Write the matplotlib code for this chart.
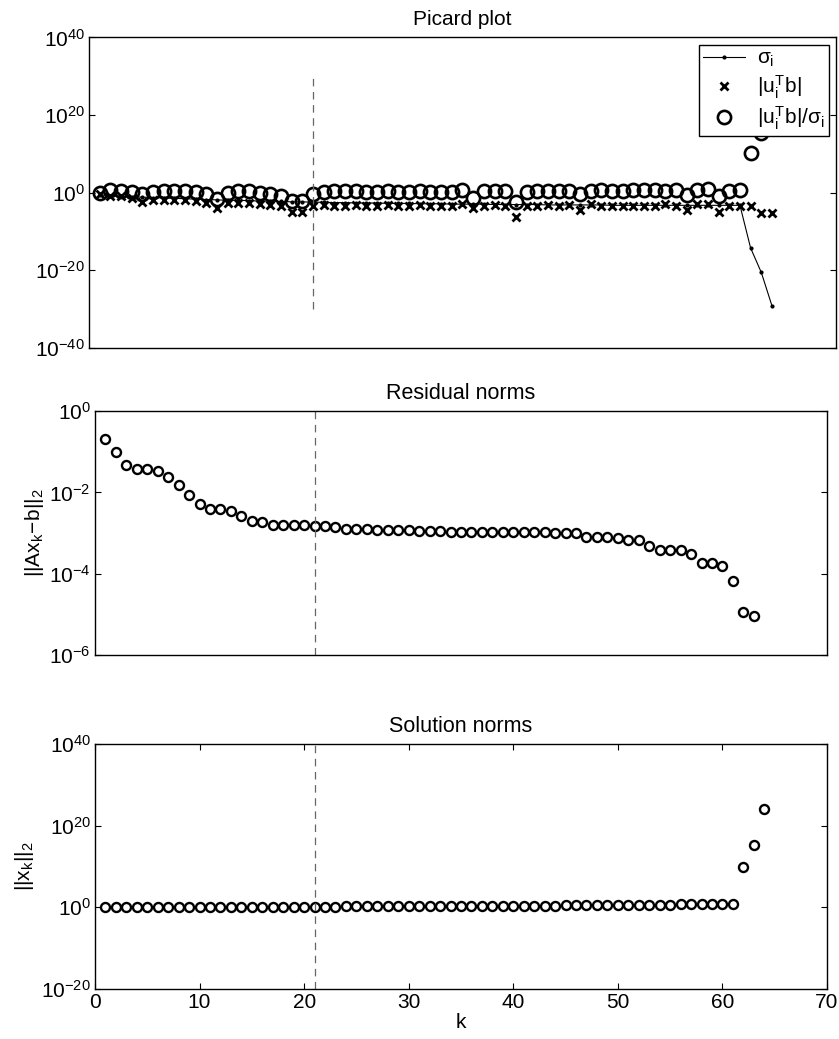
import numpy as np
import matplotlib
matplotlib.use("Agg")
import matplotlib.pyplot as plt
from matplotlib.ticker import NullLocator

plt.rcParams['font.family'] = ['Liberation Sans', 'DejaVu Sans']
plt.rcParams['mathtext.fontset'] = 'custom'
plt.rcParams['mathtext.rm'] = 'Liberation Sans'
plt.rcParams['mathtext.it'] = 'Liberation Sans'
plt.rcParams['mathtext.sf'] = 'Liberation Sans'
plt.rcParams['mathtext.bf'] = 'Liberation Sans:bold'
plt.rcParams['font.size'] = 15

# exponents (log10) of the plotted quantities, k = 1..n
sigma_exp = [-0.6, -0.8, -0.9, -1.1, -1.2, -1.3, -1.4, -1.5, -1.6, -1.7,
             -1.8, -1.9, -2.0, -2.0, -2.1, -2.2, -2.2, -2.3, -2.4, -2.4,
             -2.5, -2.5, -2.6, -2.6, -2.7, -2.7, -2.7, -2.8, -2.8, -2.8,
             -2.9, -2.9, -2.9, -3.0, -3.0, -3.0, -3.0, -3.1, -3.1, -3.1,
             -3.1, -3.1, -3.2, -3.2, -3.2, -3.2, -3.2, -3.2, -3.3, -3.3,
             -3.3, -3.3, -3.3, -3.3, -3.3, -3.3, -3.3, -3.3, -3.3, -3.3,
             -3.3, -14.3, -20.6, -29.2]
utb_exp = [-0.5, -0.8, -1.0, -1.5, -2.5, -1.8, -1.8, -2.0, -2.0, -2.3,
           -2.8, -4.0, -2.8, -2.6, -2.6, -3.0, -3.2, -3.6, -5.0, -5.0,
           -3.5, -3.2, -3.4, -3.4, -3.2, -3.5, -3.5, -3.3, -3.5, -3.5,
           -3.3, -3.5, -3.5, -3.4, -3.0, -4.0, -3.4, -3.3, -3.4, -6.2,
           -3.6, -3.4, -3.3, -3.4, -3.3, -4.5, -2.9, -3.4, -3.4, -3.6,
           -3.4, -3.4, -3.6, -2.9, -3.4, -4.5, -2.9, -3.0, -4.9, -3.6,
           -3.5, -3.6, -5.2, -5.2]
coef_exp = [0.0, 0.7, 0.5, 0.1, -0.4, 0.1, 0.3, 0.3, 0.3, 0.1,
            -0.3, -1.6, -0.2, 0.3, 0.3, -0.2, -0.3, -0.9, -2.3, -2.2,
            -0.3, 0.1, 0.3, 0.3, 0.3, 0.1, 0.1, 0.3, 0.1, 0.1,
            0.3, 0.1, 0.1, 0.1, 0.6, -1.4, 0.3, 0.5, 0.3, -2.5,
            0.1, 0.3, 0.5, 0.3, 0.5, -0.4, 0.5, 0.7, 0.5, 0.5,
            0.7, 0.7, 0.7, 0.5, 0.7, -0.6, 0.7, 0.8, -0.8, 0.5,
            0.6, 10.2, 15.4, 24.0]
resid_exp = [-0.68, -1.01, -1.33, -1.42, -1.42, -1.48, -1.63, -1.81, -2.06, -2.29,
             -2.42, -2.42, -2.46, -2.58, -2.70, -2.74, -2.80, -2.80, -2.80, -2.80,
             -2.82, -2.82, -2.86, -2.90, -2.90, -2.91, -2.92, -2.92, -2.92, -2.93,
             -2.94, -2.94, -2.95, -2.97, -2.97, -2.97, -2.98, -2.98, -2.98, -2.98,
             -2.98, -2.98, -2.98, -3.00, -3.00, -3.00, -3.10, -3.10, -3.10, -3.13,
             -3.17, -3.17, -3.32, -3.42, -3.42, -3.41, -3.53, -3.75, -3.75, -3.81,
             -4.19, -4.96, -5.05]
soln_exp = [-0.05, 0.00, 0.02, 0.03, 0.04, 0.05, 0.06, 0.07, 0.08, 0.09,
            0.10, 0.10, 0.11, 0.12, 0.12, 0.13, 0.14, 0.15, 0.15, 0.16,
            0.17, 0.18, 0.18, 0.19, 0.20, 0.20, 0.21, 0.22, 0.23, 0.23,
            0.24, 0.25, 0.26, 0.27, 0.28, 0.29, 0.30, 0.31, 0.32, 0.34,
            0.36, 0.38, 0.40, 0.42, 0.44, 0.46, 0.48, 0.50, 0.52, 0.54,
            0.57, 0.60, 0.62, 0.64, 0.66, 0.68, 0.70, 0.72, 0.74, 0.76,
            0.78, 10.0, 15.3, 24.1]
k_opt = 21

sigma = 10.0 ** np.array(sigma_exp)
utb = 10.0 ** np.array(utb_exp)
coef = 10.0 ** np.array(coef_exp)
resid = 10.0 ** np.array(resid_exp)
soln = 10.0 ** np.array(soln_exp)
kp = np.arange(1, len(sigma) + 1)
kr = np.arange(1, len(resid) + 1)
ks = np.arange(1, len(soln) + 1)

fig = plt.figure(figsize=(8.39, 10.39), dpi=100)
ax1 = fig.add_axes([0.1061, 0.6654, 0.8903, 0.2986])
ax2 = fig.add_axes([0.1132, 0.3699, 0.8725, 0.2343])
ax3 = fig.add_axes([0.1132, 0.0484, 0.8725, 0.2352])

dash = (0, (6, 4.5))
for ax in (ax1, ax2, ax3):
    ax.set_yscale('log')
    ax.set_xlim(0, 70)
    ax.yaxis.set_minor_locator(NullLocator())
    ax.xaxis.set_minor_locator(NullLocator())
    ax.tick_params(direction='in', length=4, width=0.8, right=True, top=True, labelsize=15, pad=3)
    for s in ax.spines.values():
        s.set_linewidth(1.0)

# Picard plot
ax1.plot(kp, sigma, '.-', color='k', lw=0.8, ms=4, label=r'$\sigma_i$')
ax1.plot(kp, utb, 'x', color='k', ms=6, mew=2, label=r'$|u_i^Tb|$')
ax1.plot(kp, coef, 'o', color='k', mfc='none', ms=9.5, mew=1.9, label=r'$|u_i^Tb|/\sigma_i$')
ax1.plot([k_opt, k_opt], [1e-30, 1e30], linestyle=dash, color='0.4', lw=0.9)
ax1.set_ylim(1e-40, 1e40)
ax1.set_yticks([1e-40, 1e-20, 1e0, 1e20, 1e40])
ax1.set_xticks([])
ax1.set_title('Picard plot', fontsize=15, pad=9)
leg = ax1.legend(loc='upper right', fancybox=False, framealpha=1, edgecolor='k',
                 borderaxespad=0.35, handlelength=2.0, handletextpad=0.6,
                 labelspacing=0.2, borderpad=0.2, fontsize=15)
leg.get_frame().set_linewidth(1.0)
leg.set_zorder(5)

# residual norms
ax2.plot(kr, resid, 'o', color='k', mfc='none', ms=6.5, mew=1.7)
ax2.axvline(k_opt, linestyle=dash, color='0.4', lw=0.9)
ax2.set_ylim(1e-6, 1e0)
ax2.set_yticks([1e-6, 1e-4, 1e-2, 1e0])
ax2.set_xticks([])
ax2.set_ylabel(r'$||Ax_k\!-\!b||_2$', fontsize=15, labelpad=2)
ax2.set_title('Residual norms', fontsize=15.5, pad=9)

# solution norms
ax3.plot(ks, soln, 'o', color='k', mfc='none', ms=6.5, mew=1.7)
ax3.axvline(k_opt, linestyle=dash, color='0.4', lw=0.9)
ax3.set_ylim(1e-20, 1e40)
ax3.set_yticks([1e-20, 1e0, 1e20, 1e40])
ax3.set_xticks(np.arange(0, 71, 10))
ax3.set_ylabel(r'$||x_k||_2$', fontsize=15, labelpad=4)
ax3.set_xlabel('k', fontsize=15, labelpad=1)
ax3.set_title('Solution norms', fontsize=15.5, pad=9)

fig.savefig('out.png', dpi=100)
